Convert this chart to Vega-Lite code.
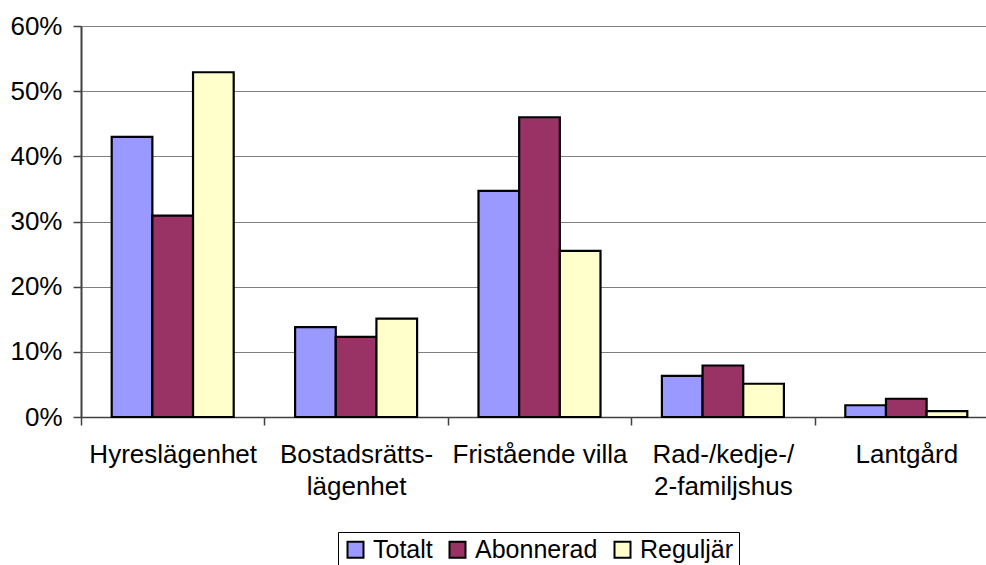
{
  "$schema": "https://vega.github.io/schema/vega-lite/v6.json",
  "autosize": {"type": "none"},
  "width": 905,
  "height": 391,
  "padding": {"left": 81, "top": 26, "right": 0, "bottom": 148},
  "background": "white",
  "data": {
    "values": [
      {"boende": "Hyreslägenhet", "grupp": "Totalt", "andel": 0.43},
      {"boende": "Hyreslägenhet", "grupp": "Abonnerad", "andel": 0.309},
      {"boende": "Hyreslägenhet", "grupp": "Reguljär", "andel": 0.529},
      {"boende": "Bostadsrätts-|lägenhet", "grupp": "Totalt", "andel": 0.138},
      {"boende": "Bostadsrätts-|lägenhet", "grupp": "Abonnerad", "andel": 0.123},
      {"boende": "Bostadsrätts-|lägenhet", "grupp": "Reguljär", "andel": 0.151},
      {"boende": "Fristående villa", "grupp": "Totalt", "andel": 0.347},
      {"boende": "Fristående villa", "grupp": "Abonnerad", "andel": 0.46},
      {"boende": "Fristående villa", "grupp": "Reguljär", "andel": 0.255},
      {"boende": "Rad-/kedje-/|2-familjshus", "grupp": "Totalt", "andel": 0.063},
      {"boende": "Rad-/kedje-/|2-familjshus", "grupp": "Abonnerad", "andel": 0.079},
      {"boende": "Rad-/kedje-/|2-familjshus", "grupp": "Reguljär", "andel": 0.051},
      {"boende": "Lantgård", "grupp": "Totalt", "andel": 0.018},
      {"boende": "Lantgård", "grupp": "Abonnerad", "andel": 0.028},
      {"boende": "Lantgård", "grupp": "Reguljär", "andel": 0.009}
    ]
  },
  "mark": {"type": "bar", "stroke": "black", "strokeWidth": 2.2, "strokeJoin": "miter"},
  "encoding": {
    "x": {
      "field": "boende",
      "type": "nominal",
      "sort": null,
      "title": null,
      "scale": {"range": [0, 917], "paddingInner": 0, "paddingOuter": 0},
      "axis": {
        "tickBand": "extent",
        "labelAngle": 0,
        "labelExpr": "split(datum.label, '|')",
        "labelFont": "Liberation Sans",
        "labelFontSize": 26,
        "labelColor": "black",
        "labelLineHeight": 32,
        "labelPadding": 16,
        "tickSize": 8,
        "tickColor": "#404040",
        "tickWidth": 1.5,
        "domainColor": "#404040",
        "domainWidth": 1.5,
        "grid": false
      }
    },
    "xOffset": {
      "field": "grupp",
      "type": "nominal",
      "sort": ["Totalt", "Abonnerad", "Reguljär"],
      "scale": {"paddingInner": 0, "paddingOuter": 0.755}
    },
    "y": {
      "field": "andel",
      "type": "quantitative",
      "title": null,
      "scale": {"domain": [0, 0.6], "nice": false},
      "axis": {
        "format": ".0%",
        "values": [0, 0.1, 0.2, 0.3, 0.4, 0.5, 0.6],
        "labelFont": "Liberation Sans",
        "labelFontSize": 26,
        "labelColor": "black",
        "labelPadding": 11,
        "tickSize": 8,
        "tickColor": "#404040",
        "tickWidth": 1.5,
        "domainColor": "#404040",
        "domainWidth": 2,
        "grid": true,
        "gridColor": "#808080",
        "gridWidth": 1.2,
        "gridOpacity": 1
      }
    },
    "color": {
      "field": "grupp",
      "type": "nominal",
      "sort": ["Totalt", "Abonnerad", "Reguljär"],
      "scale": {"domain": ["Totalt", "Abonnerad", "Reguljär"], "range": ["#9999FF", "#993366", "#FFFFCC"]},
      "legend": {
        "title": null,
        "orient": "none",
        "legendX": 257,
        "legendY": 506,
        "direction": "horizontal",
        "strokeColor": "black",
        "fillColor": "white",
        "padding": 5,
        "symbolType": "square",
        "symbolSize": 256,
        "symbolStrokeColor": "black",
        "symbolStrokeWidth": 2,
        "symbolOpacity": 1,
        "labelFont": "Liberation Sans",
        "labelFontSize": 25,
        "labelColor": "black",
        "labelOffset": 5,
        "columnPadding": 12
      }
    }
  },
  "config": {"view": {"stroke": null}}
}
